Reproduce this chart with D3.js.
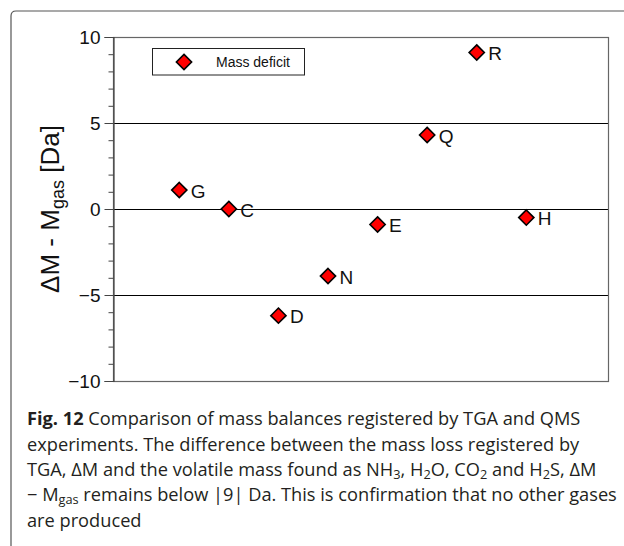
<!DOCTYPE html>
<html><head><meta charset="utf-8">
<script src="https://cdn.jsdelivr.net/npm/d3@7"></script>
<style>html,body{margin:0;padding:0;background:#fff;}svg{display:block;}</style>
</head><body>
<script>
// ---- data ----
const categories = ["G","C","D","N","E","Q","R","H"];
const values = [1.1, 0.0, -6.2, -3.9, -0.9, 4.3, 9.1, -0.5];
const yMajorTicks = [-10, -5, 0, 5, 10];
const yMinorTicks = d3.range(-10, 10.01, 1);
const gridValues = [-5, 0, 5];
const seriesName = "Mass deficit";
const yLabel = ["ΔM - M", "gas", " [Da]"];
const captionLines = [
  [{t:"Fig. 12", b:true},{t:" Comparison of mass balances registered by TGA and QMS"}],
  [{t:"experiments. The difference between the mass loss registered by"}],
  [{t:"TGA, ΔM and the volatile mass found as NH"},{t:"3",s:1},{t:", H"},{t:"2",s:1},{t:"O, CO"},{t:"2",s:1},{t:" and H"},{t:"2",s:1},{t:"S, ΔM"}],
  [{t:"− M"},{t:"gas",s:1},{t:" remains below |9| Da. This is confirmation that no other gases"}],
  [{t:"are produced"}]
];

const W = 624, H = 546;
const svg = d3.select("body").append("svg").attr("width", W).attr("height", H);
const labelFont = "'Liberation Sans', Arial, Helvetica, sans-serif";

// outer frame (open on right and bottom)
svg.append("path")
  .attr("d", `M11,${H+2} L11,16 Q11,11 16,11 L${W+2},11`)
  .attr("fill","none").attr("stroke","#555").attr("stroke-width",1.2);

const plot = {l:113, t:37, r:608, b:381};
const x = d3.scaleLinear().domain([-1.337, 8.648]).range([plot.l, plot.r]);
const y = d3.scaleLinear().domain([-10, 10]).range([plot.b, plot.t]);

// gridlines
svg.append("g").selectAll("line").data(gridValues).join("line")
  .attr("x1", plot.l).attr("x2", plot.r)
  .attr("y1", d => Math.round(y(d))+0.5).attr("y2", d => Math.round(y(d))+0.5)
  .attr("stroke","#000").attr("stroke-width",1);

// plot border
svg.append("rect").attr("x", plot.l+0.5).attr("y", plot.t+0.5)
  .attr("width", plot.r-plot.l).attr("height", plot.b-plot.t)
  .attr("fill","none").attr("stroke","#666").attr("stroke-width",1.2);

// y axis (major ticks with labels)
const yAxis = d3.axisLeft(y).tickValues(yMajorTicks).tickSize(9).tickPadding(4)
  .tickFormat(d => d < 0 ? "\u2212" + Math.abs(d) : String(d));
const gy = svg.append("g").attr("transform", `translate(${plot.l+0.5},0)`).call(yAxis);
gy.attr("font-family", labelFont).attr("font-size", 19);
gy.select(".domain").attr("stroke","#444").attr("stroke-width",1.2);
gy.selectAll(".tick line").attr("stroke","#444");
gy.selectAll("text").attr("fill","#111");
// minor ticks
const yMinor = d3.axisLeft(y).tickValues(yMinorTicks.filter(v => yMajorTicks.indexOf(v) < 0))
  .tickSize(5).tickFormat("");
const gm = svg.append("g").attr("transform", `translate(${plot.l+0.5},0)`).call(yMinor);
gm.select(".domain").remove();
gm.selectAll(".tick line").attr("stroke","#444");

// y label
const yl = svg.append("text")
  .attr("transform", `translate(59,${(plot.t+plot.b)/2}) rotate(-90)`)
  .attr("text-anchor","middle")
  .attr("font-family", labelFont)
  .attr("font-size",26).attr("fill","#111");
yl.append("tspan").text(yLabel[0]);
yl.append("tspan").attr("font-size",18).attr("dy",5).text(yLabel[1]);
yl.append("tspan").attr("dy",-5).text(yLabel[2]);

// diamonds
const dPath = s => `M0,${-s} L${s},0 L0,${s} L${-s},0 Z`;
const pts = svg.append("g");
pts.selectAll("path").data(values).join("path")
  .attr("d", dPath(7.6))
  .attr("transform", (d,i) => `translate(${x(i)},${y(d)})`)
  .attr("fill","#ff0000").attr("stroke","#000").attr("stroke-width",1.6);
pts.selectAll("text").data(values).join("text")
  .attr("x", (d,i) => x(i) + 11.5).attr("y", d => y(d) + 7.5)
  .attr("font-family", labelFont)
  .attr("font-size",19).attr("fill","#111")
  .text((d,i) => categories[i]);

// legend
const lg = svg.append("g");
lg.append("rect").attr("x",152.5).attr("y",48.5).attr("width",152).attr("height",26.5)
  .attr("fill","#fff").attr("stroke","#222").attr("stroke-width",1);
lg.append("path").attr("d", dPath(7.6)).attr("transform","translate(184,62)")
  .attr("fill","#ff0000").attr("stroke","#000").attr("stroke-width",1.6);
lg.append("text").attr("x",216).attr("y",67).attr("font-family", labelFont)
  .attr("font-size",14).attr("fill","#111").text(seriesName);

// caption
const capBase = [425, 451, 476, 501, 527];
const capX = 27;
const capFont = "'Open Sans', 'Noto Sans', sans-serif";
let fs = 18;
const cap = svg.append("g").attr("font-family", capFont).attr("fill","#231f20");
const lines = captionLines.map((segs, li) => {
  const t = cap.append("text").attr("x", capX).attr("y", capBase[li]).attr("font-size", fs);
  let prevSub = false;
  segs.forEach(s => {
    const ts = t.append("tspan").text(s.t);
    if (s.b) ts.attr("font-weight","bold");
    if (s.s) ts.attr("font-size", "0.7em").attr("dy", 3);
    else if (prevSub) ts.attr("dy", -3);
    prevSub = !!s.s;
  });
  return t;
});
// fit font size so the longest line (line 4) ends near the right of the frame
const target = 617 - capX;
const w = lines[3].node().getComputedTextLength();
fs = fs * target / w;
lines.forEach(t => t.attr("font-size", fs));
</script>
</body></html>
